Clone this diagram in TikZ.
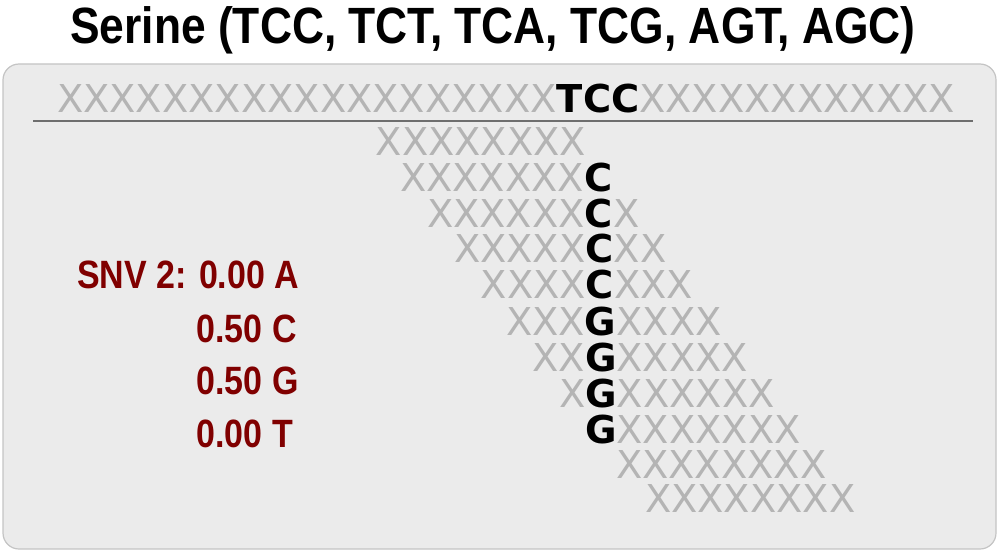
\documentclass[tikz,border=0pt]{standalone}
\usepackage{fontspec}
\usepackage{graphicx}
\setmainfont{DejaVu Sans}
\newfontfamily\seqfont{DejaVu Sans}
\newfontfamily\condfont{Liberation Sans}
\definecolor{seqgray}{HTML}{B4B4B4}
\definecolor{boxfill}{HTML}{EBEBEB}
\definecolor{boxline}{HTML}{C4C4C4}
\definecolor{refline}{HTML}{6E6E6E}
\definecolor{snvred}{HTML}{800000}
\newcommand\seqX[1]{{\color{seqgray}#1}}
\newcommand\seqB[1]{{\color{black}\bfseries #1}}
\begin{document}
\begin{tikzpicture}[x=1pt,y=-1pt,
  seqtext/.style={inner sep=0pt,outer sep=0pt,anchor=base west,font=\seqfont\fontsize{38.4}{40}\selectfont},
  snvtext/.style={inner sep=0pt,outer sep=0pt,anchor=base west,text=snvred,font=\condfont\bfseries\fontsize{39.5}{40}\selectfont},
  titletext/.style={inner sep=0pt,outer sep=0pt,anchor=base,font=\condfont\bfseries\fontsize{51}{52}\selectfont}]
\useasboundingbox (0,0) rectangle (999,551);
% title
\node[titletext] (title) at (493,44) {\scalebox{0.87}[1]{Serine (TCC, TCT, TCA, TCG, AGT, AGC)}};
% panel
\draw[boxline,fill=boxfill,line width=1.2pt,rounded corners=16pt] (3,64) rectangle (996,549);
% reference sequence
\node[seqtext] (ref) at (57,113) {\seqX{XXXXXXXXXXXXXXXXXXX}\seqB{TCC}\seqX{XXXXXXXXXXXX}};
\coordinate (la) at (33,121);
\coordinate (lb) at (973,121);
\draw[refline,line width=1.5pt] (la) -- (lb);
% reads
\node[seqtext] (r1)  at (375.7,155) {\seqX{XXXXXXXX}};
\node[seqtext] (r2)  at (400,191) {\seqX{XXXXXXX}\seqB{C}};
\node[seqtext] (r3)  at (427,227) {\seqX{XXXXXX}\seqB{C}\seqX{X}};
\node[seqtext] (r4)  at (454,262) {\seqX{XXXXX}\seqB{C}\seqX{XX}};
\node[seqtext] (r5)  at (480.7,298) {\seqX{XXXX}\seqB{C}\seqX{XXX}};
\node[seqtext] (r6)  at (506,335) {\seqX{XXX}\seqB{G}\seqX{XXXX}};
\node[seqtext] (r7)  at (532.5,371) {\seqX{XX}\seqB{G}\seqX{XXXXX}};
\node[seqtext] (r8)  at (559,407) {\seqX{X}\seqB{G}\seqX{XXXXXX}};
\node[seqtext] (r9)  at (585,443) {\seqB{G}\seqX{XXXXXXX}};
\node[seqtext] (r10) at (616,478) {\seqX{XXXXXXXX}};
\node[seqtext] (r11) at (645,512) {\seqX{XXXXXXXX}};
% SNV frequencies
\node[snvtext] (snv) at (77,288) {\scalebox{0.86}[1]{SNV 2: 0.00 A}};
\node[snvtext] (v2) at (196.5,342) {\scalebox{0.86}[1]{0.50 C}};
\node[snvtext] (v3) at (196.5,394) {\scalebox{0.86}[1]{0.50 G}};
\node[snvtext] (v4) at (196.5,447) {\scalebox{0.86}[1]{0.00 T}};
\end{tikzpicture}
\end{document}
